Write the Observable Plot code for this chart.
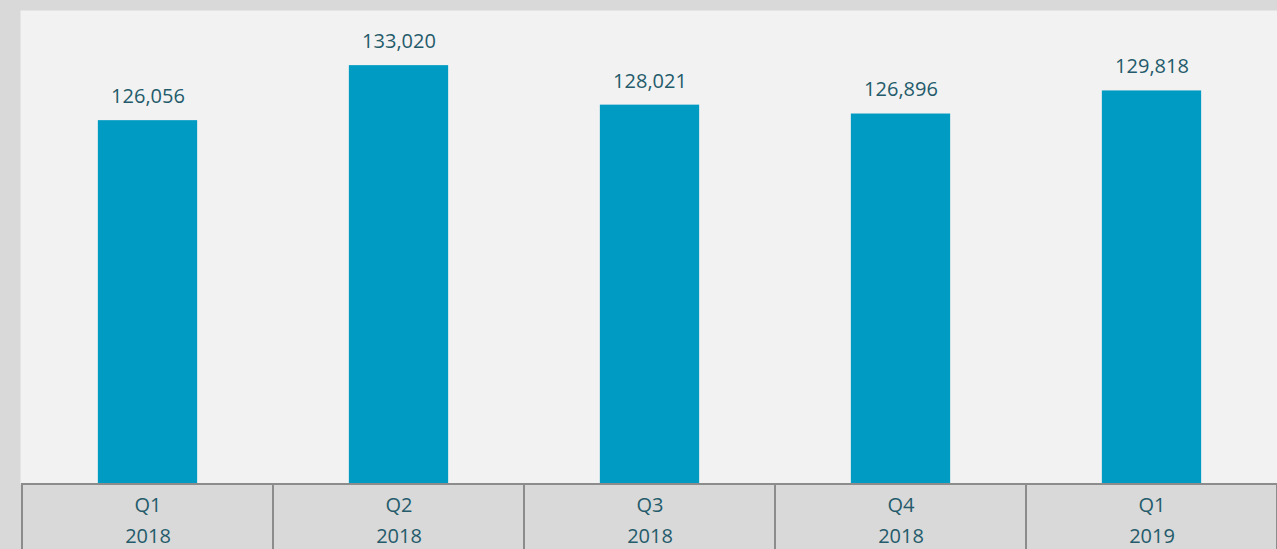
<!DOCTYPE html>
<html>
<head>
<meta charset="utf-8">
<script src="https://cdn.jsdelivr.net/npm/d3@7"></script>
<script src="https://cdn.jsdelivr.net/npm/@observablehq/plot@0.6"></script>
<style>
  html, body { margin: 0; padding: 0; background: #d9d9d9; }
  svg { display: block; }
</style>
</head>
<body>
<div id="chart"></div>
<script>
const quarters = ["Q1", "Q2", "Q3", "Q4", "Q1"];
const years = ["2018", "2018", "2018", "2018", "2019"];
const values = [126056, 133020, 128021, 126896, 129818];

const categories = quarters.map((q, i) => `${q}\n${years[i]}`);
const data = categories.map((c, i) => ({category: c, value: values[i]}));

const W = 1277, H = 549;
const mLeft = 20, mRight = -1.5, mTop = 10, mBottom = 65;
const bandW = (W - mLeft - mRight) / categories.length;
const barW = 100;
const inset = (bandW - barW) / 2;

const chart = Plot.plot({
  width: W,
  height: H,
  marginLeft: mLeft,
  marginRight: mRight,
  marginTop: mTop,
  marginBottom: mBottom,
  style: {background: "#d9d9d9", fontFamily: "'Open Sans', sans-serif", overflow: "hidden"},
  x: {domain: categories, padding: 0},
  y: {domain: [80000, 140000], axis: null},
  marks: [
    Plot.frame({fill: "#f2f2f2", stroke: null}),
    Plot.barY(data, {x: "category", y1: 80000, y2: "value", fill: "#009bc2", insetLeft: inset, insetRight: inset}),
    Plot.rect(data, {x: "category", y1: 80000, y2: 60000, fill: "#d9d9d9", stroke: "#8c8c8c", strokeWidth: 2, clip: false}),
    Plot.text(data, {x: "category", y: "value", text: d => d3.format(",")(d.value), dy: -24, fontSize: 20, fill: "#245b6b"}),
    Plot.axisX({tickSize: 0, tickPadding: 5, fontSize: 20, lineHeight: 1.55, fill: "#245b6b", label: null})
  ]
});
document.getElementById("chart").appendChild(chart);
</script>
</body>
</html>
